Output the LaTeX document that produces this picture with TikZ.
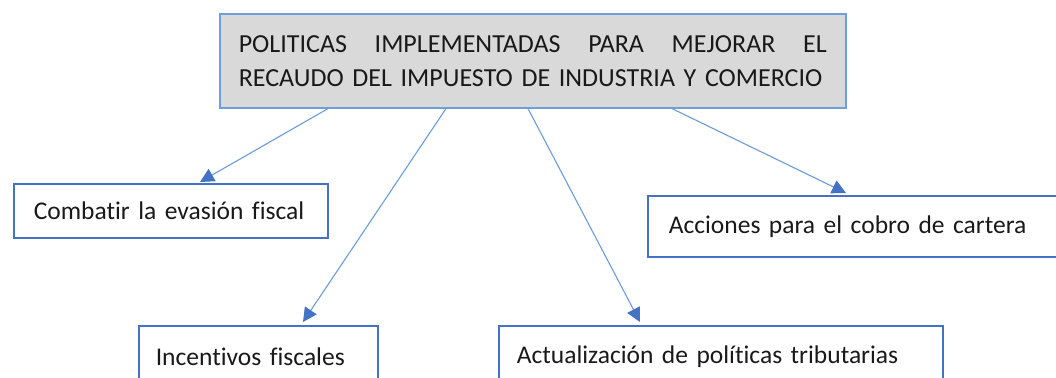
\documentclass[tikz,border=0pt]{standalone}
\usepackage{fontspec}
\setmainfont{Carlito}[Ligatures=NoCommon]
\usetikzlibrary{arrows.meta}
\definecolor{topblue}{HTML}{6F9FD8}
\definecolor{boxblue}{HTML}{4472C4}
\definecolor{lineblue}{HTML}{6A9BDA}
\definecolor{topfill}{HTML}{D9D9D9}
\tikzset{
  topbox/.style={draw=topblue, fill=topfill, line width=1.6pt, rectangle, anchor=north west,
    minimum width=626pt, minimum height=94pt, inner xsep=19pt, inner ysep=0pt,
    text width=588pt, align=left, font=\fontsize{26}{34}\selectfont, text=black!90},
  subbox/.style={draw=boxblue, line width=1.6pt, rectangle, anchor=north west,
    inner ysep=0pt, align=left, font=\fontsize{25.5}{32}\selectfont, text=black!90},
  arr/.style={draw=lineblue, line width=1.1pt,
    -{Triangle[length=14pt,width=14pt,color=boxblue]}}
}
\begin{document}
\begin{tikzpicture}[x=1pt,y=-1pt]
\useasboundingbox (0,0) rectangle (1056,377);
\clip (0,0) rectangle (1056,377);
\node[topbox] (top) at (219,13) {POLITICAS\hfill IMPLEMENTADAS\hfill PARA\hfill MEJORAR\hfill EL\\RECAUDO DEL IMPUESTO DE INDUSTRIA Y COMERCIO};
\node[subbox, minimum height=54pt, inner xsep=20pt, text width=274pt] (comb) at (13,183) {\mbox{Combatir la evasión fiscal}};
\node[subbox, minimum height=61pt, inner xsep=21pt, text width=400pt] (acc) at (647,195) {\mbox{Acciones para el cobro de cartera}};
\node[subbox, minimum height=62pt, inner xsep=17pt, text width=205pt] (inc) at (138,325) {\mbox{Incentivos fiscales}};
\node[subbox, minimum height=62pt, inner xsep=18pt, text width=408pt] (act) at (498,325) {\mbox{Actualización de políticas tributarias}};
\coordinate (s1) at ([xshift=109pt]top.south west);
\coordinate (s2) at ([xshift=227pt]top.south west);
\coordinate (s3) at ([xshift=309pt]top.south west);
\coordinate (s4) at ([xshift=453pt]top.south west);
\coordinate (t1) at ([xshift=187pt,yshift=1pt]comb.north west);
\coordinate (t2) at ([xshift=165pt,yshift=3pt]inc.north west);
\coordinate (t3) at ([xshift=142pt,yshift=3pt]act.north west);
\coordinate (t4) at ([xshift=199pt,yshift=2pt]acc.north west);
\draw[arr] (s1) -- (t1);
\draw[arr] (s2) -- (t2);
\draw[arr] (s3) -- (t3);
\draw[arr] (s4) -- (t4);
\end{tikzpicture}
\end{document}
